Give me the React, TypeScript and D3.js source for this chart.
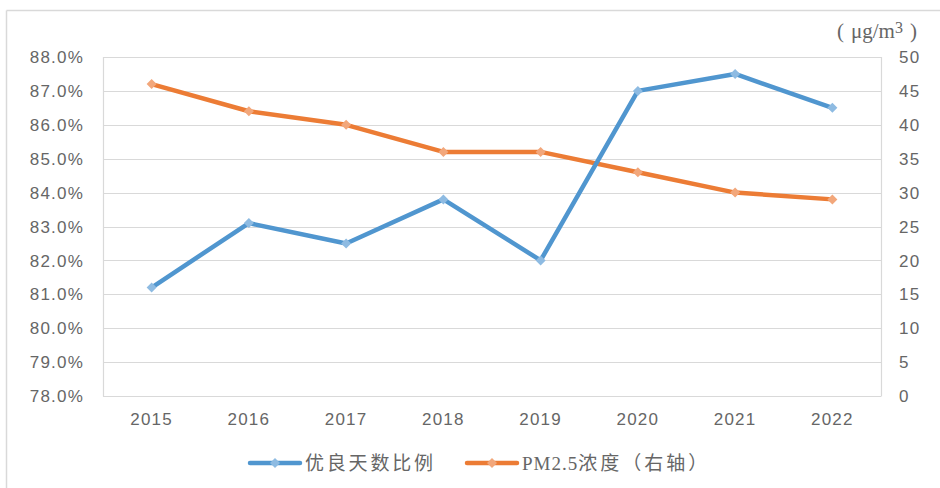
import React from "react";
import * as d3 from "d3";

const years = ["2015", "2016", "2017", "2018", "2019", "2020", "2021", "2022"];
const goodDaysRatio = [81.2, 83.1, 82.5, 83.8, 82.0, 87.0, 87.5, 86.5];
const pm25 = [46, 42, 40, 36, 36, 33, 30, 29];
const leftTicks = [78, 79, 80, 81, 82, 83, 84, 85, 86, 87, 88];
const rightTicks = [0, 5, 10, 15, 20, 25, 30, 35, 40, 45, 50];
const seriesNames = ["优良天数比例", "PM2.5浓度（右轴）"];

const W = 940, H = 488;
const L = 103, R = 881, T = 57, B = 396;
const BLUE = "#5096CF", BLUE_M = "#8EBBE2";
const ORANGE = "#EC7C35", ORANGE_M = "#F2A77B";
const GRID = "#d9d9d9";
const TXT = "#666666";
const FONT = "'Liberation Sans', sans-serif";
const CJK = "'Noto Sans CJK SC', sans-serif";
const SERIF = "'Liberation Serif', serif";

function diamond(cx: number, cy: number, r: number) {
  return `M${cx},${cy - r}L${cx + r},${cy}L${cx},${cy + r}L${cx - r},${cy}Z`;
}

export default function App() {
  const x = d3.scaleBand<string>().domain(years).range([L, R]);
  const yL = d3.scaleLinear().domain([78, 88]).range([B, T]);
  const yR = d3.scaleLinear().domain([0, 50]).range([B, T]);
  const cx = (d: string) => (x(d) as number) + x.bandwidth() / 2;

  const lineL = d3.line<number>().x((_, i) => cx(years[i])).y((d) => yL(d));
  const lineR = d3.line<number>().x((_, i) => cx(years[i])).y((d) => yR(d));

  return (
    <svg width={W} height={H} style={{ position: "absolute", left: 0, top: 0, background: "#fff" }}>
      {/* outer frame */}
      <line x1={6.5} y1={10.5} x2={W} y2={10.5} stroke={GRID} strokeWidth={1.5} />
      <line x1={6.5} y1={10.5} x2={6.5} y2={H} stroke={GRID} strokeWidth={1.5} />

      {/* gridlines */}
      {leftTicks.map((t) => (
        <line key={t} x1={L} x2={R} y1={Math.round(yL(t)) + 0.5} y2={Math.round(yL(t)) + 0.5} stroke={GRID} strokeWidth={1.2} />
      ))}
      <line x1={L + 0.5} x2={L + 0.5} y1={T} y2={B + 0.5} stroke={GRID} strokeWidth={1.2} />
      <line x1={R + 0.5} x2={R + 0.5} y1={T} y2={B + 0.5} stroke={GRID} strokeWidth={1.2} />

      {/* left ticks */}
      {leftTicks.map((t) => (
        <text key={t} x={84} y={yL(t)} dy="0.36em" textAnchor="end" fontSize={17} letterSpacing={1.2} fontFamily={FONT} fill={TXT}>
          {t.toFixed(1) + "%"}
        </text>
      ))}
      {/* right ticks */}
      {rightTicks.map((t) => (
        <text key={t} x={899} y={yR(t)} dy="0.36em" textAnchor="start" fontSize={17} letterSpacing={1.2} fontFamily={FONT} fill={TXT}>
          {t}
        </text>
      ))}
      {/* x labels */}
      {years.map((y) => (
        <text key={y} x={cx(y)} y={425} textAnchor="middle" fontSize={17} letterSpacing={1.2} fontFamily={FONT} fill={TXT}>
          {y}
        </text>
      ))}
      {/* unit */}
      <text y={38} fontSize={21} fontFamily={SERIF} fill={TXT}>
        <tspan x={837}>(</tspan>
        <tspan x={851}>μg/m</tspan>
        <tspan fontSize={16} dy={-5}>3</tspan>
        <tspan x={910} dy={5}>)</tspan>
      </text>

      {/* series */}
      <path d={lineR(pm25) || ""} fill="none" stroke={ORANGE} strokeWidth={4.5} strokeLinejoin="round" />
      {pm25.map((v, i) => (
        <path key={"o" + i} d={diamond(cx(years[i]), yR(v), 5)} fill={ORANGE_M} />
      ))}
      <path d={lineL(goodDaysRatio) || ""} fill="none" stroke={BLUE} strokeWidth={4.5} strokeLinejoin="round" />
      {goodDaysRatio.map((v, i) => (
        <path key={"b" + i} d={diamond(cx(years[i]), yL(v), 5)} fill={BLUE_M} />
      ))}

      {/* legend */}
      <line x1={250} x2={300} y1={463} y2={463} stroke={BLUE} strokeWidth={4.5} strokeLinecap="round" />
      <path d={diamond(275, 463, 5)} fill={BLUE_M} />
      <text x={305} y={463} dy="0.36em" fontSize={19} letterSpacing={2.8} fontFamily={CJK} fill={TXT}>
        {seriesNames[0]}
      </text>
      <line x1={467} x2={517} y1={463} y2={463} stroke={ORANGE} strokeWidth={4.5} strokeLinecap="round" />
      <path d={diamond(492, 463, 5)} fill={ORANGE_M} />
      <text x={522} y={463} dy="0.36em" fontSize={19} fontFamily={SERIF} fill={TXT}>
        <tspan letterSpacing={1}>{seriesNames[1].slice(0, 5)}</tspan>
        <tspan fontFamily={CJK} letterSpacing={3}>{seriesNames[1].slice(5)}</tspan>
      </text>
    </svg>
  );
}
